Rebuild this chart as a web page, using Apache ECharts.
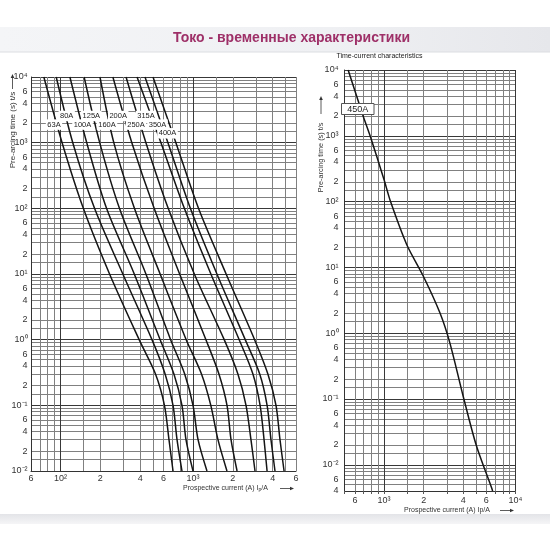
<!DOCTYPE html>
<html><head><meta charset="utf-8">
<script src="https://cdn.jsdelivr.net/npm/echarts@6/dist/echarts.min.js"></script>
<style>html,body{margin:0;padding:0;background:#fff}#c{width:550px;height:550px}</style>
</head><body><div id="c"></div>
<script>
// ---------- data ----------
const curveNames = ['63A','80A','100A','125A','160A','200A','250A','315A','350A','400A'];
const leftTimes = [10000, 1000, 100, 10, 1, 0.3, 0.1, 0.03, 0.01];
const amps63A  = [75,  103, 149, 235, 393, 522, 610, 660, 708];
const amps80A  = [93,  124, 181, 296, 491, 617, 708, 759, 827];
const amps100A = [118, 158, 223, 361, 566, 719, 827, 887, 1002];
const amps125A = [151, 198, 279, 442, 679, 867, 1002, 1094, 1277];
const amps160A = [199, 253, 362, 566, 890, 1161, 1365, 1546, 1808];
const amps200A = [249, 346, 510, 794, 1254, 1572, 1809, 1940, 2155];
const amps250A = [313, 442, 651, 1025, 1723, 2186, 2517, 2743, 2943];
const amps315A = [379, 574, 862, 1367, 2236, 2838, 3215, 3443, 3629];
const amps350A = [435, 648, 957, 1518, 2483, 3193, 3631, 3884, 4165];
const amps400A = [500, 744, 1102, 1781, 2922, 3681, 4238, 4542, 4877];

const rightTimes = [10000, 2000, 1000, 215, 100, 22.3, 7.4, 2.06, 0.72, 0.112, 0.0196, 0.0046, 0.004];
const amps450A  = [533, 693, 783, 1000, 1120, 1486, 1986, 2655, 3162, 3990, 5036, 6546, 6700];

const leftXTicks  = [60, 100, 200, 400, 600, 1000, 2000, 4000, 6000];
const rightXTicks = [600, 1000, 2000, 4000, 6000, 10000];
const leftYTicks  = [0.01,0.02,0.04,0.06,0.1,0.2,0.4,0.6,1,2,4,6,10,20,40,60,100,200,400,600,1000,2000,4000,6000,10000];
const rightYTicks = [0.004,0.006,0.01,0.02,0.04,0.06,0.1,0.2,0.4,0.6,1,2,4,6,10,20,40,60,100,200,400,600,1000,2000,4000,6000,10000];

// ---------- helpers ----------
const SUP = {'0':'⁰','1':'¹','2':'²','3':'³','4':'⁴','5':'⁵','-':'⁻'};
function tickText(l){
  const e = Math.floor(l + 1e-9);
  const m = Math.round(Math.pow(10, l - e));
  return m === 1 ? '10' + String(e).split('').map(c => SUP[c]).join('') : String(m);
}
function toLogs(arr, lo, hi){
  const a = Math.log10(lo), b = Math.log10(hi);
  return arr.map(v => {
    let l = Math.log10(v);
    if (Math.abs(l - a) < 1e-9) l = a;
    if (Math.abs(l - b) < 1e-9) l = b;
    return l;
  });
}
function gridVals(lo, hi){
  const out = [];
  for (let e = -3; e <= 4; e++) for (const m of [1,1.5,2,3,4,5,6,7,8,9]) {
    const v = m * Math.pow(10, e);
    if (v >= lo * 0.9999 && v <= hi * 1.0001) out.push(v);
  }
  return toLogs(out, lo, hi);
}
function decadeVals(lo, hi){
  const out = [];
  for (let e = -3; e <= 4; e++) { const v = Math.pow(10, e); if (v >= lo * 0.9999 && v <= hi * 1.0001) out.push(v); }
  return toLogs(out, lo, hi);
}
const FONT = '"Liberation Sans", Arial, sans-serif';
const GRIDC = '#808080', DECC = '#383838';

function axesFor(dim, g, lo, hi, ticks, margin, showTicks){
  const pos = dim === 'x' ? 'bottom' : 'left';
  return [
    { type:'log', logBase:10, gridIndex:g, min:lo, max:hi, show:false, position:pos },
    { type:'value', gridIndex:g, min:Math.log10(lo), max:Math.log10(hi), position:pos,
      axisLine:{show:true, onZero:false, lineStyle:{color:'#333', width:1}},
      axisTick:{show:showTicks, inside:false, length:3, customValues:gridVals(lo,hi), lineStyle:{color:'#555'}},
      axisLabel:{show:true, customValues:toLogs(ticks,lo,hi), formatter:tickText, fontSize:9, fontFamily:FONT,
                 color:'#333', margin:margin, showMinLabel:true, showMaxLabel:true, hideOverlap:false},
      splitLine:{show:true, lineStyle:{color:GRIDC, width:1}} },
    { type:'value', gridIndex:g, min:Math.log10(lo), max:Math.log10(hi), position:pos,
      axisLine:{show:false, onZero:false}, axisLabel:{show:false},
      axisTick:{show:false, customValues:decadeVals(lo,hi)},
      splitLine:{show:true, lineStyle:{color:DECC, width:1}} }
  ];
}

const leftAmps = [amps63A, amps80A, amps100A, amps125A, amps160A, amps200A, amps250A, amps315A, amps350A, amps400A];
const curveStyle = {color:'#151515', width:1.5};
const series = leftAmps.map((a, i) => ({
  type:'line', name:curveNames[i], xAxisIndex:0, yAxisIndex:0,
  data:a.map((v, j) => [v, leftTimes[j]]),
  showSymbol:false, symbol:'none', smooth:0.3, silent:true, z:3, lineStyle:curveStyle
}));
series.push({
  type:'line', name:'450A', xAxisIndex:3, yAxisIndex:3,
  data:amps450A.map((v, j) => [v, rightTimes[j]]),
  showSymbol:false, symbol:'none', smooth:0.3, silent:true, z:3, lineStyle:curveStyle
});

// ---------- decorations ----------
function arrow(x1, y1, x2, y2){
  const ang = Math.atan2(y2 - y1, x2 - x1), L = 4, W = 1.8;
  const bx = x2 - L * Math.cos(ang), by = y2 - L * Math.sin(ang);
  const px = -Math.sin(ang) * W, py = Math.cos(ang) * W;
  return [
    {type:'line', z:10, shape:{x1:x1, y1:y1, x2:bx, y2:by}, style:{stroke:'#333', lineWidth:0.8}},
    {type:'polygon', z:10, shape:{points:[[x2,y2],[bx+px,by+py],[bx-px,by-py]]}, style:{fill:'#333'}}
  ];
}
const labelPos = {
  '80A':[66.7,116], '125A':[91.3,116], '200A':[118.2,116], '315A':[146,116],
  '63A':[54,124.6], '100A':[82.5,124.6], '160A':[107,124.6], '250A':[136,124.6], '350A':[157.5,124.6],
  '400A':[167.5,133.3]
};
const graphics = [
  {type:'rect', z:-10, shape:{x:0, y:27, width:550, height:25},
   style:{fill:new echarts.graphic.LinearGradient(0,0,1,0,[{offset:0,color:'#f4f5f7'},{offset:0.6,color:'#eff0f3'},{offset:1,color:'#e6e7eb'}])}},
  {type:'rect', z:-9, shape:{x:0, y:51.5, width:550, height:1}, style:{fill:'#dcdde2'}},
  {type:'rect', z:-10, shape:{x:0, y:514, width:550, height:10},
   style:{fill:new echarts.graphic.LinearGradient(0,0,0,1,[{offset:0,color:'#e3e4e8'},{offset:1,color:'#f5f5f7'}])}},
  {type:'text', z:10, x:291.5, y:38.5, style:{text:'Токо - временные характеристики', font:'bold 14px ' + FONT,
   fill:'#9e3068', align:'center', verticalAlign:'middle'}},
  {type:'text', z:10, x:379.5, y:56.5, style:{text:'Time-current characteristics', font:'7px ' + FONT,
   fill:'#222', align:'center', verticalAlign:'middle'}},
  {type:'text', z:10, x:12.5, y:130, rotation:Math.PI/2, style:{text:'Pre-arcing time (s) t/s', font:'8px ' + FONT,
   fill:'#333', align:'center', verticalAlign:'middle'}},
  ...arrow(12.5, 89, 12.5, 74),
  {type:'text', z:10, x:321, y:157.5, rotation:Math.PI/2, style:{text:'Pre-arcing time (s) t/s', font:'7.3px ' + FONT,
   fill:'#333', align:'center', verticalAlign:'middle'}},
  ...arrow(321, 114, 321, 96),
  {type:'text', z:10, x:183, y:488, style:{text:'{a|Prospective current (A) I}{b|p}{a|/A}',
   rich:{a:{fontSize:7, fontFamily:FONT, fill:'#333'}, b:{fontSize:5, fontFamily:FONT, fill:'#333', padding:[3,0,0,0]}},
   align:'left', verticalAlign:'middle'}},
  ...arrow(280, 488.5, 294, 488.5),
  {type:'text', z:10, x:404, y:510, style:{text:'{a|Prospective current (A) Ip/A}',
   rich:{a:{fontSize:7, fontFamily:FONT, fill:'#333'}},
   align:'left', verticalAlign:'middle'}},
  ...arrow(500, 510.5, 514, 510.5),
  {type:'rect', z:10, shape:{x:341.5, y:103.5, width:32.5, height:11}, style:{fill:'#fff', stroke:'#555', lineWidth:1}},
  {type:'text', z:11, x:357.8, y:109.3, style:{text:'450A', font:'9px ' + FONT, fill:'#222', align:'center', verticalAlign:'middle'}}
];
curveNames.forEach(n => {
  const p = labelPos[n];
  graphics.push({type:'text', z:10, x:p[0], y:p[1], style:{text:n, font:'7.5px ' + FONT, fill:'#222',
    align:'center', verticalAlign:'middle', backgroundColor:'#fff', padding:[1.5,1.5,1,1.5]}});
});

const chart = echarts.init(document.getElementById('c'), null, {renderer:'canvas'});
chart.setOption({
  animation:false,
  backgroundColor:'#fff',
  grid:[
    {left:31, top:77, width:265, height:394, containLabel:false},
    {left:344.5, top:70, width:171, height:421, containLabel:false}
  ],
  xAxis:[...axesFor('x', 0, 60, 6000, leftXTicks, 3, false), ...axesFor('x', 1, 500, 10000, rightXTicks, 5, true)],
  yAxis:[...axesFor('y', 0, 0.01, 10000, leftYTicks, 3.5, false), ...axesFor('y', 1, 0.004, 10000, rightYTicks, 6, false)],
  series:series,
  graphic:graphics
});
</script></body></html>
